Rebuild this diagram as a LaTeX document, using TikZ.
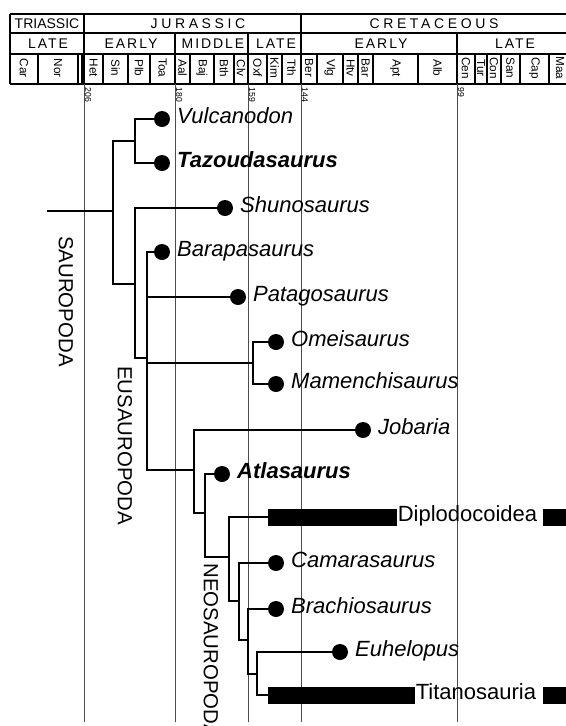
\documentclass[tikz,border=0pt]{standalone}
\usepackage{fontspec}
\setmainfont{Liberation Sans}
\newfontfamily\trackfont[LetterSpace=26]{Liberation Sans}
\newfontfamily\trackfontb[LetterSpace=14]{Liberation Sans}
\usetikzlibrary{positioning}

\begin{document}
\begin{tikzpicture}[
    x=0.75pt, y=-0.75pt,
    frame/.style={line width=1.5pt},
    stageline/.style={line width=0.9pt},
    timeline/.style={line width=0.7pt, black!70},
    branch/.style={line width=1.6pt, line cap=rect},
    dot/.style={circle, fill, inner sep=0pt, minimum size=12pt},
    bar/.style={rectangle, fill, inner sep=0pt, minimum height=12.75pt, anchor=west},
    taxon/.style={inner sep=0pt, text height=0.72em, text depth=0pt, font=\fontsize{16.5}{18}\selectfont\itshape},
    group/.style={inner sep=0pt, text height=0.72em, text depth=0pt, font=\fontsize{16.5}{18}\selectfont},
    clade/.style={rotate=-90, anchor=west, inner sep=0pt, font=\fontsize{15.3}{18}\selectfont},
    period/.style={inner sep=0pt, font=\fontsize{10.5}{12}\selectfont},
    spaced/.style={inner sep=0pt, font=\trackfont\fontsize{10.5}{12}\selectfont},
    epoch/.style={inner sep=0pt, font=\trackfontb\fontsize{10.5}{12}\selectfont},
    stage/.style={rotate=-90, inner sep=0pt, font=\fontsize{8.8}{9}\selectfont},
    age/.style={rotate=-90, anchor=south west, inner sep=0.5pt, font=\fontsize{6.5}{7}\selectfont}
  ]
  \useasboundingbox (0,0) rectangle (566,726);

  % time scale
  \draw[frame] (10,14) -- (580,14);
  \draw[frame] (10,33) -- (580,33);
  \draw[frame] (10,54) -- (580,54);
  \draw[frame] (10,84) -- (580,84);
  \foreach \x in {10,84,301}
    \draw[frame] (\x,14) -- (\x,84);
  \foreach \x in {175,248,457}
    \draw[frame] (\x,33) -- (\x,84);
  \foreach \x in {38,78,82,103,128,150,190,214,234,267,282,317,343,358,373,418,475,487,501,520,549}
    \draw[stageline] (\x,54) -- (\x,84);

  \node[period] (tri) at (47,23.5) {TRIASSIC};
  \node[spaced] (jur) at (198,23.5) {JURASSIC};
  \node[spaced] (cre) at (434,23.5) {CRETACEOUS};
  \node[epoch] (trilate) at (48,43.5) {LATE};
  \node[epoch] (jurearly) at (131,43.5) {EARLY};
  \node[epoch] (jurmid) at (213,43.5) {MIDDLE};
  \node[epoch] (jurlate) at (276,43.5) {LATE};
  \node[epoch] (creearly) at (381,43.5) {EARLY};
  \node[epoch] (crelate) at (515,43.5) {LATE};

  \foreach \x/\s in {24/Car,58/Nor,93.5/Het,115.5/Sin,139/Plb,162.5/Toa,182.5/Aal,202/Baj,224/Bth,241/Clv,257.5/Oxf,274.5/Kim,291.5/Tth,309/Ber,330/Vlg,350.5/Htv,365.5/Bar,395.5/Apt,437.5/Alb,466/Cen,481/Tur,494/Con,510.5/San,534.5/Cap,560/Maa}
    \node[stage] (st\s) at (\x,68) {\s};

  \foreach \x/\a in {84/206,175/180,248/159,301/144,457/99} {
    \draw[timeline] (\x,84) -- (\x,722);
    \node[age] (age\a) at (\x,87) {\a};
  }

  % tree
  \coordinate (root) at (48,211);
  \coordinate (n1) at (113,211);
  \coordinate (n2) at (135,141);
  \coordinate (n3) at (135,284);
  \coordinate (n4) at (147,358);
  \coordinate (n5) at (253,363);
  \coordinate (n6) at (194,470);
  \coordinate (n7) at (205,513);
  \coordinate (n8) at (229,557);
  \coordinate (n9) at (239,601);
  \coordinate (n10) at (248,640);
  \coordinate (n11) at (257,674);

  \node[dot] (vul) at (162,119) {};
  \node[taxon, right=5pt of vul] (vullab) {Vulcanodon};
  \node[dot] (taz) at (162,163) {};
  \node[taxon, right=5pt of taz] (tazlab) {\bfseries Tazoudasaurus};
  \node[dot] (shu) at (225,208) {};
  \node[taxon, right=5pt of shu] (shulab) {Shunosaurus};
  \node[dot] (bar) at (162,252) {};
  \node[taxon, right=5pt of bar] (barlab) {Barapasaurus};
  \node[dot] (pat) at (238,297) {};
  \node[taxon, right=5pt of pat] (patlab) {Patagosaurus};
  \node[dot] (omei) at (276,342) {};
  \node[taxon, right=5pt of omei] (omeilab) {Omeisaurus};
  \node[dot] (mam) at (276,384) {};
  \node[taxon, right=5pt of mam] (mamlab) {Mamenchisaurus};
  \node[dot] (job) at (363,430) {};
  \node[taxon, right=5pt of job] (joblab) {Jobaria};
  \node[dot] (atl) at (222,474) {};
  \node[taxon, right=5pt of atl] (atllab) {\bfseries Atlasaurus};
  \node[bar, minimum width=96.75pt] (dip) at (268,517) {};
  \node[group, right=0pt of dip] (diplab) {Diplodocoidea};
  \node[bar, minimum width=22.5pt] (dipend) at (543,517) {};
  \node[dot] (cam) at (276,563) {};
  \node[taxon, right=5pt of cam] (camlab) {Camarasaurus};
  \node[dot] (bra) at (276,609) {};
  \node[taxon, right=5pt of bra] (bralab) {Brachiosaurus};
  \node[dot] (euh) at (340,652) {};
  \node[taxon, right=5pt of euh] (euhlab) {Euhelopus};
  \node[bar, minimum width=110.25pt] (tit) at (268,695) {};
  \node[group, right=0pt of tit] (titlab) {Titanosauria};
  \node[bar, minimum width=22.5pt] (titend) at (543,695) {};

  \draw[branch] (root) -- (n1);
  \draw[branch] (n2) -| (n1) |- (n3);
  \draw[branch] (vul) -| (n2) |- (taz);
  \draw[branch] (shu) -| (n3) |- (n4);
  \draw[branch] (bar) -| (n4) |- (n6);
  \draw[branch] (n4 |- pat) -- (pat);
  \draw[branch] (n4 |- n5) -- (n5);
  \draw[branch] (omei) -| (n5) |- (mam);
  \draw[branch] (job) -| (n6) |- (n7);
  \draw[branch] (atl) -| (n7) |- (n8);
  \draw[branch] (dip) -| (n8) |- (n9);
  \draw[branch] (cam) -| (n9) |- (n10);
  \draw[branch] (bra) -| (n10) |- (n11);
  \draw[branch] (euh) -| (n11) |- (tit);

  \node[clade] (sauro) at (66,236) {SAUROPODA};
  \node[clade] (eusauro) at (125,366) {EUSAUROPODA};
  \node[clade] (neosauro) at (211,563) {NEOSAUROPODA};
\end{tikzpicture}
\end{document}
